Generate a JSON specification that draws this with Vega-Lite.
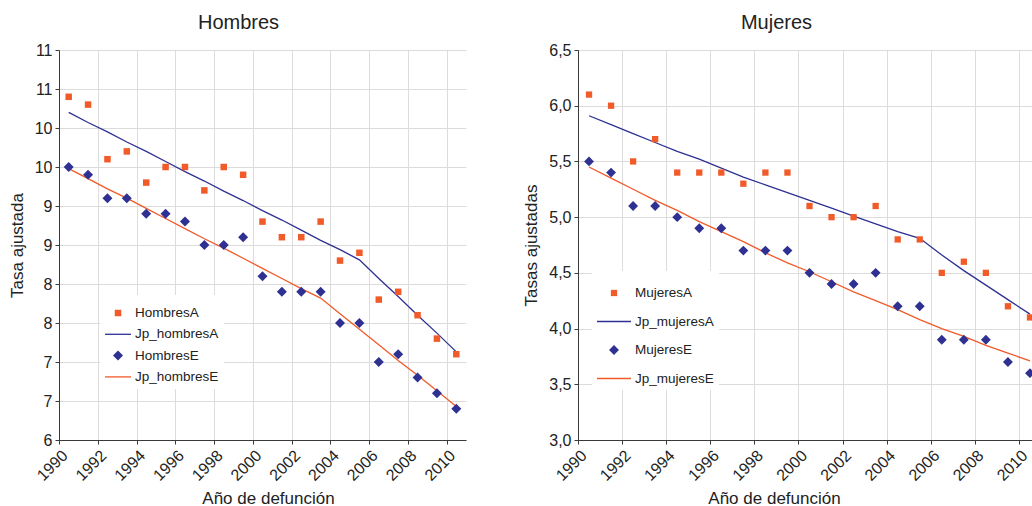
{
  "$schema": "https://vega.github.io/schema/vega-lite/v6.json",
  "padding": {"left": 8, "top": 13, "right": 0, "bottom": 0},
  "background": "white",
  "config": {
    "font": "Liberation Sans",
    "view": {"stroke": null},
    "axis": {"domainColor": "#3a3a3a", "tickColor": "#3a3a3a", "gridColor": "#dcdcdc", "gridWidth": 1, "labelFontSize": 16, "labelColor": "#222222", "titleFontSize": 17, "titleFontWeight": "normal", "titleColor": "#222222", "tickSize": 4, "labelPadding": 3},
    "title": {"fontSize": 20, "fontWeight": "normal", "color": "#222222", "offset": 9},
    "legend": {"title": null, "orient": "none", "fillColor": "white", "padding": 5, "labelFontSize": 13.5, "labelColor": "#222222", "labelOffset": 4, "symbolStrokeWidth": 0}
  },
  "datasets": {
    "hombres": [
      {"anio": 1990.5, "HombresA": 10.4, "Jp_hombresA": 10.20, "HombresE": 9.5, "Jp_hombresE": 9.48},
      {"anio": 1991.5, "HombresA": 10.3, "Jp_hombresA": 10.07, "HombresE": 9.4, "Jp_hombresE": 9.35},
      {"anio": 1992.5, "HombresA": 9.6, "Jp_hombresA": 9.95, "HombresE": 9.1, "Jp_hombresE": 9.22},
      {"anio": 1993.5, "HombresA": 9.7, "Jp_hombresA": 9.82, "HombresE": 9.1, "Jp_hombresE": 9.10},
      {"anio": 1994.5, "HombresA": 9.3, "Jp_hombresA": 9.70, "HombresE": 8.9, "Jp_hombresE": 8.97},
      {"anio": 1995.5, "HombresA": 9.5, "Jp_hombresA": 9.57, "HombresE": 8.9, "Jp_hombresE": 8.84},
      {"anio": 1996.5, "HombresA": 9.5, "Jp_hombresA": 9.44, "HombresE": 8.8, "Jp_hombresE": 8.71},
      {"anio": 1997.5, "HombresA": 9.2, "Jp_hombresA": 9.32, "HombresE": 8.5, "Jp_hombresE": 8.58},
      {"anio": 1998.5, "HombresA": 9.5, "Jp_hombresA": 9.19, "HombresE": 8.5, "Jp_hombresE": 8.46},
      {"anio": 1999.5, "HombresA": 9.4, "Jp_hombresA": 9.07, "HombresE": 8.6, "Jp_hombresE": 8.33},
      {"anio": 2000.5, "HombresA": 8.8, "Jp_hombresA": 8.94, "HombresE": 8.1, "Jp_hombresE": 8.20},
      {"anio": 2001.5, "HombresA": 8.6, "Jp_hombresA": 8.82, "HombresE": 7.9, "Jp_hombresE": 8.07},
      {"anio": 2002.5, "HombresA": 8.6, "Jp_hombresA": 8.69, "HombresE": 7.9, "Jp_hombresE": 7.94},
      {"anio": 2003.5, "HombresA": 8.8, "Jp_hombresA": 8.56, "HombresE": 7.9, "Jp_hombresE": 7.82},
      {"anio": 2004.5, "HombresA": 8.3, "Jp_hombresA": 8.44, "HombresE": 7.5, "Jp_hombresE": 7.62},
      {"anio": 2005.5, "HombresA": 8.4, "Jp_hombresA": 8.31, "HombresE": 7.5, "Jp_hombresE": 7.42},
      {"anio": 2006.5, "HombresA": 7.8, "Jp_hombresA": 8.07, "HombresE": 7.0, "Jp_hombresE": 7.22},
      {"anio": 2007.5, "HombresA": 7.9, "Jp_hombresA": 7.84, "HombresE": 7.1, "Jp_hombresE": 7.02},
      {"anio": 2008.5, "HombresA": 7.6, "Jp_hombresA": 7.60, "HombresE": 6.8, "Jp_hombresE": 6.83},
      {"anio": 2009.5, "HombresA": 7.3, "Jp_hombresA": 7.37, "HombresE": 6.6, "Jp_hombresE": 6.63},
      {"anio": 2010.5, "HombresA": 7.1, "Jp_hombresA": 7.13, "HombresE": 6.4, "Jp_hombresE": 6.43}
    ],
    "mujeres": [
      {"anio": 1990.5, "MujeresA": 6.1, "Jp_mujeresA": 5.91, "MujeresE": 5.5, "Jp_mujeresE": 5.45},
      {"anio": 1991.5, "MujeresA": 6.0, "Jp_mujeresA": 5.83, "MujeresE": 5.4, "Jp_mujeresE": 5.35},
      {"anio": 1992.5, "MujeresA": 5.5, "Jp_mujeresA": 5.75, "MujeresE": 5.1, "Jp_mujeresE": 5.25},
      {"anio": 1993.5, "MujeresA": 5.7, "Jp_mujeresA": 5.67, "MujeresE": 5.1, "Jp_mujeresE": 5.15},
      {"anio": 1994.5, "MujeresA": 5.4, "Jp_mujeresA": 5.59, "MujeresE": 5.0, "Jp_mujeresE": 5.06},
      {"anio": 1995.5, "MujeresA": 5.4, "Jp_mujeresA": 5.52, "MujeresE": 4.9, "Jp_mujeresE": 4.96},
      {"anio": 1996.5, "MujeresA": 5.4, "Jp_mujeresA": 5.44, "MujeresE": 4.9, "Jp_mujeresE": 4.87},
      {"anio": 1997.5, "MujeresA": 5.3, "Jp_mujeresA": 5.36, "MujeresE": 4.7, "Jp_mujeresE": 4.78},
      {"anio": 1998.5, "MujeresA": 5.4, "Jp_mujeresA": 5.29, "MujeresE": 4.7, "Jp_mujeresE": 4.68},
      {"anio": 1999.5, "MujeresA": 5.4, "Jp_mujeresA": 5.22, "MujeresE": 4.7, "Jp_mujeresE": 4.59},
      {"anio": 2000.5, "MujeresA": 5.1, "Jp_mujeresA": 5.15, "MujeresE": 4.5, "Jp_mujeresE": 4.51},
      {"anio": 2001.5, "MujeresA": 5.0, "Jp_mujeresA": 5.08, "MujeresE": 4.4, "Jp_mujeresE": 4.42},
      {"anio": 2002.5, "MujeresA": 5.0, "Jp_mujeresA": 5.01, "MujeresE": 4.4, "Jp_mujeresE": 4.33},
      {"anio": 2003.5, "MujeresA": 5.1, "Jp_mujeresA": 4.94, "MujeresE": 4.5, "Jp_mujeresE": 4.25},
      {"anio": 2004.5, "MujeresA": 4.8, "Jp_mujeresA": 4.87, "MujeresE": 4.2, "Jp_mujeresE": 4.17},
      {"anio": 2005.5, "MujeresA": 4.8, "Jp_mujeresA": 4.81, "MujeresE": 4.2, "Jp_mujeresE": 4.08},
      {"anio": 2006.5, "MujeresA": 4.5, "Jp_mujeresA": 4.66, "MujeresE": 3.9, "Jp_mujeresE": 4.00},
      {"anio": 2007.5, "MujeresA": 4.6, "Jp_mujeresA": 4.52, "MujeresE": 3.9, "Jp_mujeresE": 3.93},
      {"anio": 2008.5, "MujeresA": 4.5, "Jp_mujeresA": 4.39, "MujeresE": 3.9, "Jp_mujeresE": 3.85},
      {"anio": 2009.5, "MujeresA": 4.2, "Jp_mujeresA": 4.26, "MujeresE": 3.7, "Jp_mujeresE": 3.78},
      {"anio": 2010.5, "MujeresA": 4.1, "Jp_mujeresA": 4.13, "MujeresE": 3.6, "Jp_mujeresE": 3.71}
    ]
  },
  "spacing": 56,
  "resolve": {"scale": {"color": "independent", "shape": "independent"}, "legend": {"color": "independent", "shape": "independent"}},
  "hconcat": [
    {
      "width": 407,
      "height": 390,
      "title": {"text": "Hombres", "dx": -24},
      "data": {"name": "hombres"},
      "encoding": {
        "x": {"field": "anio", "type": "quantitative", "scale": {"domain": [1990, 2011], "nice": false, "zero": false},
              "axis": {"values": [1990, 1992, 1994, 1996, 1998, 2000, 2002, 2004, 2006, 2008, 2010], "format": "d", "labelAngle": -45, "title": "Año de defunción", "titleX": 209, "titlePadding": 7}},
        "y": {"field": "tasa", "type": "quantitative", "scale": {"domain": [6, 11], "nice": false, "zero": false},
              "axis": {"values": [6, 6.5, 7, 7.5, 8, 8.5, 9, 9.5, 10, 10.5, 11], "format": ".0f", "title": "Tasa ajustada", "titlePadding": 8}},
        "color": {"field": "serie", "type": "nominal",
                  "scale": {"domain": ["HombresA", "Jp_hombresA", "HombresE", "Jp_hombresE"], "range": ["#f15a29", "#2e3192", "#2e3192", "#f15a29"]},
                  "legend": {"legendX": 41, "legendY": 245, "rowPadding": 1.3, "symbolSize": 676}}
      },
      "layer": [
        {"transform": [{"fold": ["Jp_hombresA", "Jp_hombresE"], "as": ["serie", "tasa"]}],
         "mark": {"type": "line", "strokeWidth": 1.3}},
        {"transform": [{"fold": ["HombresA", "HombresE"], "as": ["serie", "tasa"]}],
         "mark": {"type": "point", "filled": true, "opacity": 1, "size": 676},
         "encoding": {
           "shape": {"field": "serie", "type": "nominal",
                  "scale": {"domain": ["HombresA", "Jp_hombresA", "HombresE", "Jp_hombresE"],
                            "range": ["M-0.25,-0.25H0.25V0.25H-0.25Z", "M-1,-0.05H1V0.05H-1Z", "M0,-0.385L0.385,0L0,0.385L-0.385,0Z", "M-1,-0.05H1V0.05H-1Z"]},
                  "legend": {"legendX": 41, "legendY": 245, "rowPadding": 1.3, "symbolSize": 676}}
         }}
      ]
    },
    {
      "width": 463,
      "height": 390,
      "title": {"text": "Mujeres", "dx": -33},
      "data": {"name": "mujeres"},
      "encoding": {
        "x": {"field": "anio", "type": "quantitative", "scale": {"domain": [1990, 2011], "nice": false, "zero": false},
              "axis": {"values": [1990, 1992, 1994, 1996, 1998, 2000, 2002, 2004, 2006, 2008, 2010], "format": "d", "labelAngle": -45, "title": "Año de defunción", "titleX": 196, "titlePadding": 7}},
        "y": {"field": "tasa", "type": "quantitative", "scale": {"domain": [3, 6.5], "nice": false, "zero": false},
              "axis": {"values": [3, 3.5, 4, 4.5, 5, 5.5, 6, 6.5], "labelExpr": "replace(format(datum.value, '.1f'), '.', ',')", "title": "Tasas ajustadas", "titlePadding": 8}},
        "color": {"field": "serie", "type": "nominal",
                  "scale": {"domain": ["MujeresA", "Jp_mujeresA", "MujeresE", "Jp_mujeresE"], "range": ["#f15a29", "#2e3192", "#2e3192", "#f15a29"]},
                  "legend": {"legendX": 14, "legendY": 221, "rowPadding": 4.5, "symbolSize": 1156}}
      },
      "layer": [
        {"transform": [{"fold": ["Jp_mujeresA", "Jp_mujeresE"], "as": ["serie", "tasa"]}],
         "mark": {"type": "line", "strokeWidth": 1.3}},
        {"transform": [{"fold": ["MujeresA", "MujeresE"], "as": ["serie", "tasa"]}],
         "mark": {"type": "point", "filled": true, "opacity": 1, "size": 1156},
         "encoding": {
           "shape": {"field": "serie", "type": "nominal",
                  "scale": {"domain": ["MujeresA", "Jp_mujeresA", "MujeresE", "Jp_mujeresE"],
                            "range": ["M-0.185,-0.185H0.185V0.185H-0.185Z", "M-1,-0.04H1V0.04H-1Z", "M0,-0.29L0.29,0L0,0.29L-0.29,0Z", "M-1,-0.04H1V0.04H-1Z"]},
                  "legend": {"legendX": 14, "legendY": 221, "rowPadding": 4.5, "symbolSize": 1156}}
         }}
      ]
    }
  ]
}
